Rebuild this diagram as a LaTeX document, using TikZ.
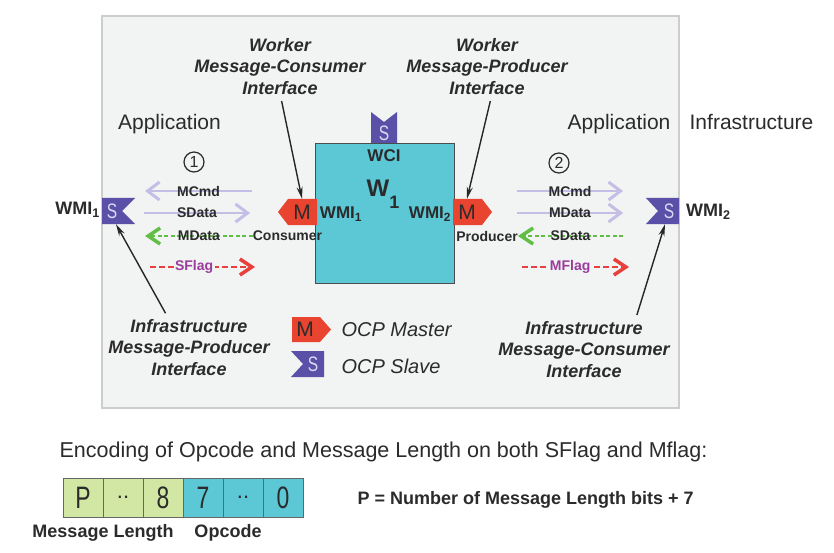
\documentclass[tikz,border=0pt]{standalone}
\usepackage{fontspec}
\usepackage{graphicx}
\setmainfont{Liberation Sans}
\usetikzlibrary{arrows.meta, positioning}

\definecolor{panelfill}{HTML}{F2F3F3}
\definecolor{panelline}{HTML}{CDCDCD}
\definecolor{workercyan}{HTML}{5CC7D5}
\definecolor{masterred}{HTML}{E8442F}
\definecolor{slaveblue}{HTML}{5A50A8}
\definecolor{slavetext}{HTML}{DCD8F2}
\definecolor{cmdlilac}{HTML}{C4BEE6}
\definecolor{datagreen}{HTML}{62BE46}
\definecolor{flagred}{HTML}{E8403C}
\definecolor{flagpurple}{HTML}{9A3C9C}
\definecolor{lengthgreen}{HTML}{D2E7A4}
\definecolor{inkgray}{HTML}{2B2B2B}

% squeeze a glyph horizontally (tab letters and bit cells)
\newcommand{\narrowtext}[1]{\scalebox{0.74}[1]{#1}}

\tikzset{
    panel/.style={draw=panelline, fill=panelfill, line width=1.2pt},
    workerbox/.style={draw=black!70, fill=workercyan, line width=0.8pt, inner sep=0pt},
    masterfill/.style={fill=masterred},
    slavefill/.style={fill=slaveblue},
    tabtext/.style={inner sep=0pt, minimum height=26pt, text=inkgray, font=\fontsize{21}{21}\selectfont},
    slavetab/.style={tabtext, text=slavetext},
    ifacelabel/.style={align=center, text=inkgray, font=\fontsize{18}{21.5}\selectfont\bfseries\itshape},
    arealabel/.style={text=inkgray, font=\fontsize{21}{21}\selectfont},
    portlabel/.style={text=inkgray, inner sep=0pt, font=\fontsize{18}{18}\selectfont\bfseries},
    siglabel/.style={text=inkgray, inner sep=0pt, font=\fontsize{14}{14}\selectfont\bfseries},
    flaglabel/.style={siglabel, text=flagpurple, fill=panelfill, inner xsep=1.5pt},
    legendtext/.style={text=inkgray, font=\fontsize{20}{20}\selectfont\itshape},
    cmdline/.style={draw=cmdlilac, line width=2pt, -{Straight Barb[length=12pt,width=18pt,line width=3pt]}},
    dataline/.style={draw=datagreen, line width=2.2pt, dash pattern=on 4pt off 2.5pt, -{Straight Barb[length=12pt,width=16pt,line width=3.5pt]}},
    flagline/.style={draw=flagred, line width=2.2pt, dash pattern=on 6pt off 3pt, -{Straight Barb[length=12pt,width=16pt,line width=3.5pt]}},
    pointer/.style={draw=black!85, line width=1.4pt, -{Stealth[length=12pt,width=6pt]}},
    stepnum/.style={draw=inkgray, circle, line width=1.2pt, minimum size=20pt, inner sep=0pt, text=inkgray, font=\fontsize{16}{16}\selectfont},
    bitcell/.style={draw=black!60, line width=0.8pt, outer sep=0pt, minimum width=40pt, minimum height=39pt, inner sep=0pt, text=inkgray, font=\fontsize{31}{31}\selectfont},
    bitlabel/.style={text=inkgray, font=\fontsize{18}{18}\selectfont\bfseries},
}

\begin{document}
\begin{tikzpicture}[x=1pt, y=-1pt]
    \useasboundingbox (0,0) rectangle (834,553);
    \fill[white] (0,0) rectangle (834,553);

    % application panel and the worker
    \draw[panel] (102,16) rectangle (679,408);
    \node[workerbox, minimum width=139pt, minimum height=140pt] (w1) at (384.5,213) {};

    % worker ports
    \fill[slavefill] (371,143) -- (371,112) -- (384,122) -- (397,112) -- (397,143) -- cycle;
    \node[slavetab] (wcis) at (384,133) {\narrowtext{S}};
    \fill[masterfill] (317,199) -- (288,199) -- (278,212) -- (288,225) -- (317,225) -- cycle;
    \node[tabtext] (mcons) at (302,212) {M};
    \fill[masterfill] (453,199) -- (482,199) -- (492,212) -- (482,225) -- (453,225) -- cycle;
    \node[tabtext] (mprod) at (467,212) {M};

    \node[portlabel, font=\fontsize{17}{17}\selectfont\bfseries] (wcilbl) at (384,156) {WCI};
    \node[text=inkgray, inner sep=0pt, font=\fontsize{24}{24}\selectfont\bfseries] (w1name) at (383,194)
        {W\raisebox{-12pt}{\fontsize{18}{18}\selectfont 1}};
    \node[portlabel, font=\fontsize{17}{17}\selectfont\bfseries] (wmiin1) at (341,214) {WMI\textsubscript{1}};
    \node[portlabel, font=\fontsize{17}{17}\selectfont\bfseries] (wmiin2) at (430,214) {WMI\textsubscript{2}};

    % infrastructure ports
    \fill[slavefill] (102,198) -- (135,198) -- (122,211) -- (135,224) -- (102,224) -- cycle;
    \node[slavetab] (s1) at (112,211) {\narrowtext{S}};
    \fill[slavefill] (679,198) -- (646,198) -- (658,211) -- (646,224) -- (679,224) -- cycle;
    \node[slavetab] (s2) at (669,211) {\narrowtext{S}};
    \node[portlabel, anchor=east] (wmi1) at (100,210) {WMI\textsubscript{1}};
    \node[portlabel, anchor=west] (wmi2) at (686,212) {WMI\textsubscript{2}};

    % area titles
    \node[arealabel] (appleft) at (169.5,124) {Application};
    \node[arealabel] (appright) at (619,124) {Application};
    \node[arealabel] (infra) at (751.5,122) {Infrastructure};

    % interface names
    \node[ifacelabel] (wcons) at (280,66.5) {Worker\\Message-Consumer\\Interface};
    \node[ifacelabel] (wprod) at (487,66.5) {Worker\\Message-Producer\\Interface};
    \node[ifacelabel] (iprod) at (189,347.5) {Infrastructure\\Message-Producer\\Interface};
    \node[ifacelabel] (icons) at (584,349.5) {Infrastructure\\Message-Consumer\\Interface};

    \draw[pointer, shorten <=3pt] ([xshift=1pt]wcons.south) -- (mcons.north);
    \draw[pointer, shorten <=3pt] ([xshift=4pt]wprod.south) -- (mprod.north);
    \draw[pointer, shorten <=3pt] ([xshift=-22pt]iprod.north) -- ([xshift=4pt]s1.south);
    \draw[pointer, shorten <=3pt] ([xshift=52pt]icons.north) -- ([xshift=-4pt]s2.south);

    \node[stepnum] (step1) at (194,162) {1};
    \node[stepnum] (step2) at (559,163) {2};

    % signals between WMI1 ports
    \coordinate (cmdl1) at (145,191);
    \coordinate (cmdr1) at (252,191);
    \coordinate (datl1) at (144,213);
    \coordinate (datr1) at (250,213);
    \coordinate (retl1) at (145,236);
    \coordinate (flgl1) at (150,267);
    \coordinate (flgr1) at (255,267);
    \node[siglabel] (conslbl) at (287.5,236) {Consumer};
    \draw[cmdline] (cmdr1) -- node[siglabel] {MCmd} (cmdl1);
    \draw[cmdline] (datl1) -- node[siglabel] {SData} (datr1);
    \draw[dataline] (conslbl.west) -- node[siglabel] {MData} (retl1);
    \draw[flagline] (flgl1) -- node[flaglabel, pos=0.42] {SFlag} (flgr1);

    % signals between WMI2 ports
    \coordinate (cmdl2) at (517,191);
    \coordinate (cmdr2) at (623,191);
    \coordinate (datl2) at (517,213);
    \coordinate (datr2) at (623,213);
    \coordinate (retr2) at (623,236);
    \coordinate (flgl2) at (522,267);
    \coordinate (flgr2) at (629,267);
    \node[siglabel] (prodlbl) at (487,236) {Producer};
    \draw[cmdline] (cmdl2) -- node[siglabel] {MCmd} (cmdr2);
    \draw[cmdline] (datl2) -- node[siglabel] {MData} (datr2);
    \draw[dataline] (retr2) -- node[siglabel] {SData} (prodlbl.east);
    \draw[flagline] (flgl2) -- node[flaglabel, pos=0.45] {MFlag} (flgr2);

    % legend
    \fill[masterfill] (292,317) -- (320,317) -- (331,329.5) -- (320,342) -- (292,342) -- cycle;
    \node[tabtext] (legm) at (305,329.5) {M};
    \node[legendtext, anchor=west] (legmtxt) at (338,329.5) {OCP Master};
    \fill[slavefill] (324,351) -- (291,351) -- (303,364) -- (291,377) -- (324,377) -- cycle;
    \node[slavetab] (legs) at (313,364) {\narrowtext{S}};
    \node[legendtext, anchor=west] (legstxt) at (338,366) {OCP Slave};

    % flag encoding
    \node[arealabel, font=\fontsize{21.5}{21.5}\selectfont] (enctitle) at (383.5,451.5) {Encoding of Opcode and Message Length on both SFlag and Mflag:};
    \node[bitcell, fill=lengthgreen] (bit1) at (83,497.5) {\narrowtext{P}};
    \node[bitcell, fill=lengthgreen, right=0pt of bit1, font=\fontsize{22}{22}\selectfont] (bit2) {..};
    \node[bitcell, fill=lengthgreen, right=0pt of bit2] (bit3) {\narrowtext{8}};
    \node[bitcell, fill=workercyan, right=0pt of bit3] (bit4) {\narrowtext{7}};
    \node[bitcell, fill=workercyan, right=0pt of bit4, font=\fontsize{22}{22}\selectfont] (bit5) {..};
    \node[bitcell, fill=workercyan, right=0pt of bit5] (bit6) {\narrowtext{0}};
    \node[bitlabel] (lenlbl) at (103,533) {Message Length};
    \node[bitlabel] (oplbl) at (228,533) {Opcode};
    \node[bitlabel, anchor=west] (pnote) at (354,500) {P = Number of Message Length bits + 7};
\end{tikzpicture}
\end{document}
